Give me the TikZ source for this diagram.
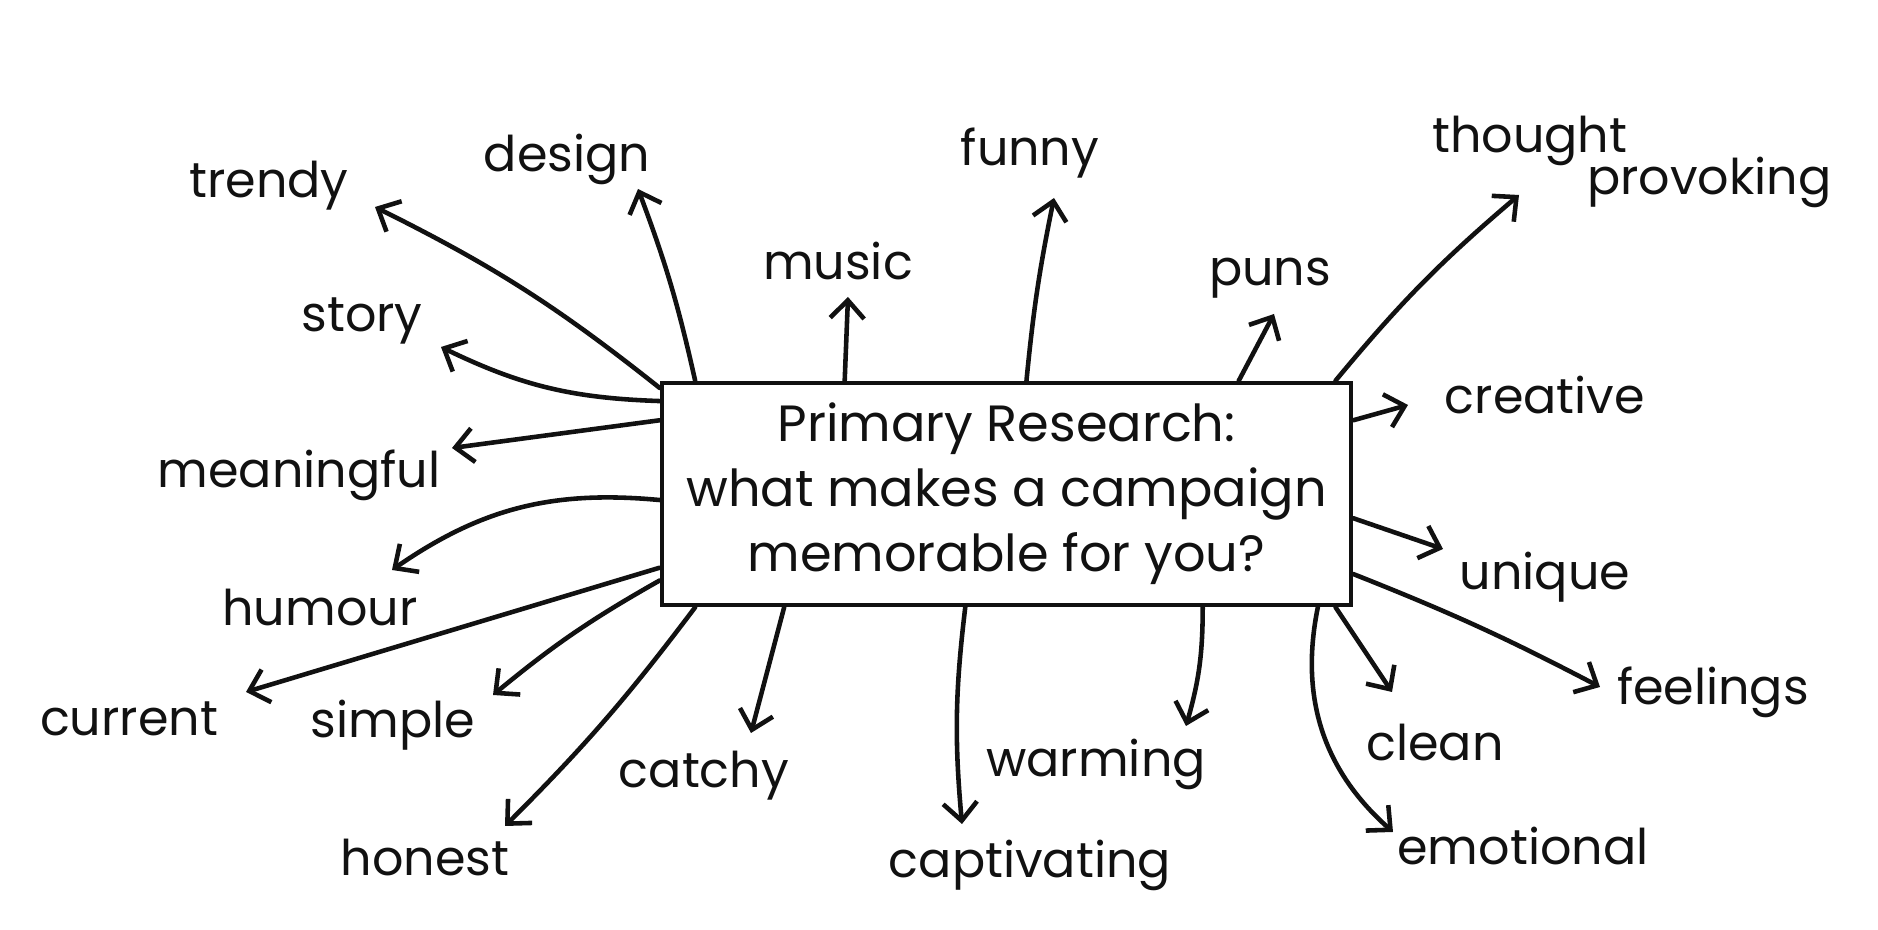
\documentclass[tikz,border=0pt]{standalone}
\usepackage{fontspec}
\setmainfont{Poppins}
\definecolor{inkblack}{HTML}{111111}
\usetikzlibrary{arrows.meta,positioning}
\tikzset{
    mindbox/.style={
        draw=inkblack,
        line width=1.3pt,
        minimum width=6.89cm,
        minimum height=2.22cm,
        inner sep=0pt,
        align=center,
        text=inkblack,
        font=\fontsize{14.5}{18.5}\selectfont
    },
    mindlabel/.style={
        text=inkblack,
        inner sep=1pt,
        font=\fontsize{14}{17}\selectfont
    },
    mindarrow/.style={
        -{Straight Barb[length=1.8mm,width=3.4mm]},
        draw=inkblack,
        line width=1.3pt,
        line cap=round
    }
}

\begin{document}
\begin{tikzpicture}
        \useasboundingbox (0,0) rectangle (18.78,9.30);

        \node[mindbox] (box) at (10.065,4.36)
            {Primary Research:\\what makes a campaign\\memorable for you?};

        % labels round the box
        \node[mindlabel] (trendy) at (2.69,7.44) {trendy};
        \node[mindlabel] (design) at (5.67,7.71) {design};
        \node[mindlabel] (music) at (8.38,6.69) {music};
        \node[mindlabel] (funny) at (10.30,7.77) {funny};
        \node[mindlabel] (puns) at (12.70,6.52) {puns};
        \node[mindlabel,anchor=west,align=left] (thought) at (14.28,7.68)
            {thought\\[-5pt]\hspace{1.55cm}provoking};
        \node[mindlabel] (creative) at (15.45,5.35) {creative};
        \node[mindlabel] (unique) at (15.45,3.53) {unique};
        \node[mindlabel] (feelings) at (17.13,2.38) {feelings};
        \node[mindlabel] (clean) at (14.35,1.87) {clean};
        \node[mindlabel] (emotional) at (15.23,0.84) {emotional};
        \node[mindlabel] (warming) at (10.96,1.66) {warming};
        \node[mindlabel] (captivating) at (10.30,0.65) {captivating};
        \node[mindlabel] (catchy) at (7.04,1.54) {catchy};
        \node[mindlabel] (honest) at (4.25,0.72) {honest};
        \node[mindlabel] (simple) at (3.93,2.05) {simple};
        \node[mindlabel] (current) at (1.29,2.11) {current};
        \node[mindlabel] (humour) at (3.20,3.22) {humour};
        \node[mindlabel] (meaningful) at (2.99,4.55) {meaningful};
        \node[mindlabel] (story) at (3.62,6.09) {story};

        % arrow tips
        \coordinate (trendy-tip) at (3.75,7.23);
        \coordinate (design-tip) at (6.38,7.41);
        \coordinate (music-tip) at (8.48,6.33);
        \coordinate (funny-tip) at (10.54,7.32);
        \coordinate (puns-tip) at (12.74,6.16);
        \coordinate (thought-tip) at (15.19,7.35);
        \coordinate (creative-tip) at (14.08,5.25);
        \coordinate (unique-tip) at (14.43,3.81);
        \coordinate (feelings-tip) at (16.00,2.43);
        \coordinate (clean-tip) at (13.92,2.38);
        \coordinate (emotional-tip) at (13.93,0.98);
        \coordinate (warming-tip) at (11.86,2.04);
        \coordinate (captivating-tip) at (9.62,1.06);
        \coordinate (catchy-tip) at (7.51,1.97);
        \coordinate (honest-tip) at (5.05,1.04);
        \coordinate (simple-tip) at (4.93,2.35);
        \coordinate (current-tip) at (2.46,2.38);
        \coordinate (humour-tip) at (3.92,3.60);
        \coordinate (meaningful-tip) at (4.52,4.82);
        \coordinate (story-tip) at (4.41,5.83);

        \draw[mindarrow] (box.163) to[bend right=6] (trendy-tip);
        \draw[mindarrow] (box.160) to[bend right=4] (design-tip);
        \draw[mindarrow] (box.145.3) -- (music-tip);
        \draw[mindarrow] (box.80.5) to[bend left=3] (funny-tip);
        \draw[mindarrow] (box.26.2) -- (puns-tip);
        \draw[mindarrow] (box.19) to[bend left=5] (thought-tip);
        \draw[mindarrow] (box.12.6) -- (creative-tip);
        \draw[mindarrow] (box.-4.5) -- (unique-tip);
        \draw[mindarrow] (box.-13.2) to[bend left=3] (feelings-tip);
        \draw[mindarrow] (box.-19) -- (clean-tip);
        \draw[mindarrow] (box.-20.8) to[bend right=30] (emotional-tip);
        \draw[mindarrow] (box.-30.6) to[bend left=8] (warming-tip);
        \draw[mindarrow] (box.-110.5) to[bend right=6] (captivating-tip);
        \draw[mindarrow] (box.-153.2) -- (catchy-tip);
        \draw[mindarrow] (box.-160.9) to[bend left=4] (honest-tip);
        \draw[mindarrow] (box.194.5) to[bend right=5] (simple-tip);
        \draw[mindarrow] (box.192.8) -- (current-tip);
        \draw[mindarrow] (box.181.2) to[bend right=20] (humour-tip);
        \draw[mindarrow] (box.168.4) -- (meaningful-tip);
        \draw[mindarrow] (box.165.8) to[bend left=12] (story-tip);
    \end{tikzpicture}
\end{document}
